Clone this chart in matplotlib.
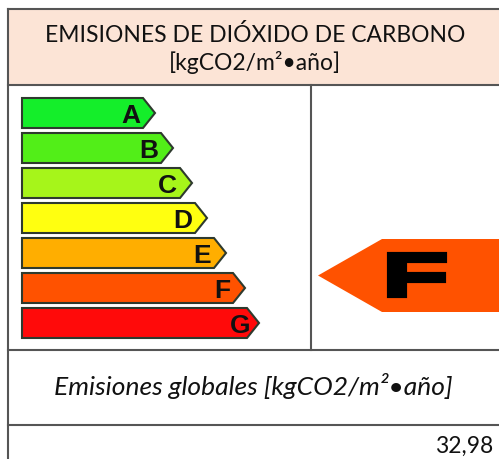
#!/usr/bin/env python3
"""Energy label card: CO2 emissions rating."""

import matplotlib
matplotlib.use("Agg")
import matplotlib.pyplot as plt
from matplotlib.font_manager import FontProperties
from matplotlib.patches import PathPatch, Polygon, Rectangle
from matplotlib.textpath import TextPath
from matplotlib.transforms import Affine2D

TITLE = "EMISIONES DE DIÓXIDO DE CARBONO"
UNITS = "[kgCO2/m²•año]"
FOOT_LABEL = "Emisiones globales [kgCO2/m²•año]"

categories = ["A", "B", "C", "D", "E", "F", "G"]
bar_lengths = [133, 151, 170, 185, 204, 223, 237]  # px, from left edge to tip
bar_colors = ["#14ee2a", "#52ee18", "#a6f51a", "#ffff10", "#ffae00", "#ff5200", "#ff0a0a"]
rating = "F"
value = 32.98

W, H = 499, 459
fig = plt.figure(figsize=(W / 100, H / 100), dpi=100)
ax = fig.add_axes([0, 0, 1, 1])
ax.set_xlim(0, W)
ax.set_ylim(H, 0)
ax.axis("off")

line_kw = dict(color="#555555", lw=1.5)
fam = ["Lato", "DejaVu Sans"]

# header band
ax.add_patch(Rectangle((8, 9), W, 76, facecolor="#fce4d6", edgecolor="none"))
ax.plot([8, W], [9, 9], **line_kw)
ax.plot([8, 8], [9, H], **line_kw)
ax.plot([8, W], [85, 85], **line_kw)
ax.plot([311, 311], [85, 350], **line_kw)
ax.plot([8, W], [350, 350], **line_kw)
ax.plot([8, W], [425, 425], **line_kw)

ax.text(255, 35, TITLE, ha="center", va="center", fontsize=16.5, family=fam, color="#111111")
ax.text(255, 63, UNITS, ha="center", va="center", fontsize=16.5, family=fam, color="#111111")

# rating scale
x0, top0, pitch, bh, tip = 22, 98, 35, 30, 12
for i, (cat, length, col) in enumerate(zip(categories, bar_lengths, bar_colors)):
    y = top0 + i * pitch
    xe = x0 + length
    pts = [(x0, y), (xe - tip, y), (xe, y + bh / 2), (xe - tip, y + bh), (x0, y + bh)]
    ax.add_patch(Polygon(pts, closed=True, facecolor=col, edgecolor="#2e3a2e", lw=1.5))
    ax.text(xe - tip - 3 + (6 if cat == "G" else 0), y + bh / 2 + 3, cat, ha="right", va="center",
            fontsize=19, fontweight="bold", family="Liberation Sans", color="#111111")

# current rating arrow
ri = categories.index(rating)
ay, ah, ax_tip = 239, 73, 318
pts = [(ax_tip, ay + ah / 2), (382, ay), (W + 5, ay), (W + 5, ay + ah), (382, ay + ah)]
ax.add_patch(Polygon(pts, closed=True, facecolor=bar_colors[ri], edgecolor="none"))

# big heavy letter, stretched to the box it fills in the reference
tp = TextPath((0, 0), rating, size=64, prop=FontProperties(family="Liberation Sans", weight="bold"))
bb = tp.get_extents()
lx0, ly0, lw_, lh_ = 389, 254, 56, 42
trans = (Affine2D().translate(-bb.x0, -bb.y0)
         .scale(lw_ / bb.width, -lh_ / bb.height)
         .translate(lx0, ly0 + lh_))
ax.add_patch(PathPatch(trans.transform_path(tp), facecolor="black", edgecolor="black",
                       lw=3, joinstyle="miter"))

# footer
ax.text(253, 386, FOOT_LABEL, ha="center", va="center", fontsize=19,
        style="italic", family=fam, color="#111111")
ax.text(493, 446, f"{value:.2f}".replace(".", ","), ha="right", va="center",
        fontsize=16.5, family=fam, color="#111111")

fig.savefig("out.png", dpi=100)
